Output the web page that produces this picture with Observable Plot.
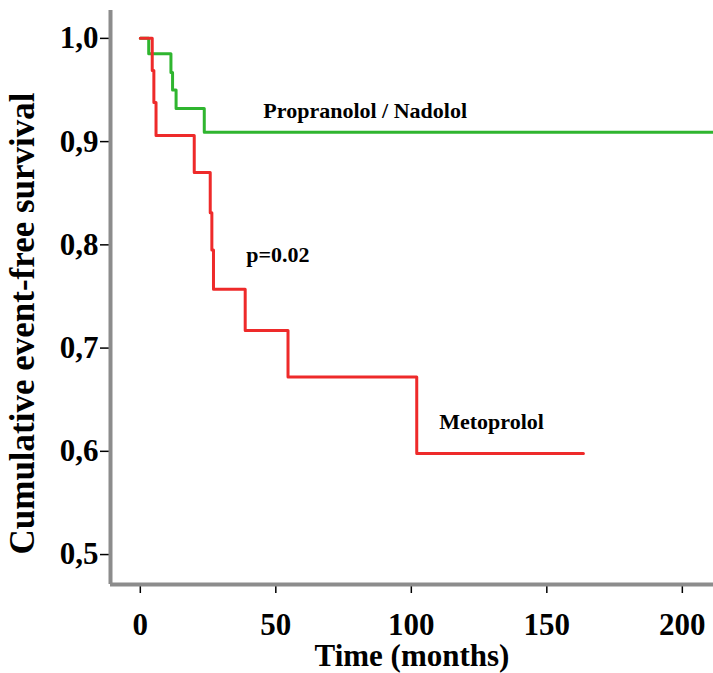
<!DOCTYPE html>
<html>
<head>
<meta charset="utf-8">
<script src="https://cdn.jsdelivr.net/npm/d3@7"></script>
<script src="https://cdn.jsdelivr.net/npm/@observablehq/plot@0.6"></script>
<style>
  html, body { margin: 0; padding: 0; background: #fff; }
  #chart svg { display: block; }
</style>
</head>
<body>
<div id="chart"></div>
<script>
// Metoprolol (red) Kaplan–Meier steps
const redTime = [0, 4.4, 5.0, 5.8, 19.9, 25.8, 26.4, 27.0, 38.7, 54.5, 102, 163.5];
const redSurv = [1, 0.969, 0.938, 0.906, 0.870, 0.831, 0.795, 0.757, 0.717, 0.672, 0.598, 0.598];
// Propranolol / Nadolol (green)
const greenTime = [0, 3.1, 11.3, 11.9, 13.2, 23.6, 215];
const greenSurv = [1, 0.985, 0.967, 0.950, 0.932, 0.909, 0.909];

const xTicks = [0, 50, 100, 150, 200];
const yTicks = [0.5, 0.6, 0.7, 0.8, 0.9, 1.0];

const labelText = ["Propranolol / Nadolol", "p=0.02", "Metoprolol"];
const labelX = [45.4, 39.1, 110.3];
const labelY = [0.930, 0.790, 0.628];

const xTitle = "Time (months)";
const yTitle = "Cumulative event-free survival";

const xDomain = [-11, 211.5];
const yDomain = [0.471, 1.027];

const red = redTime.map((t, i) => ({t, s: redSurv[i]}));
const green = greenTime.map((t, i) => ({t, s: greenSurv[i]}));
const labels = labelText.map((text, i) => ({text, x: labelX[i], y: labelY[i]}));

const plot = Plot.plot({
  width: 713,
  height: 673,
  marginLeft: 110,
  marginRight: 0,
  marginTop: 10,
  marginBottom: 89,
  style: {fontFamily: "'Liberation Serif', 'Times New Roman', serif", fontWeight: "bold", background: "#fff", color: "#000"},
  x: {domain: xDomain},
  y: {domain: yDomain},
  marks: [
    Plot.axisX({ticks: xTicks, tickSize: 9, tickPadding: 19, fontSize: 31, label: null, stroke: "#000", strokeWidth: 1.5}),
    Plot.axisY({ticks: yTicks, tickSize: 10, tickPadding: 2, fontSize: 31, label: null, stroke: "#000", strokeWidth: 1.5,
      tickFormat: d => d.toFixed(1).replace(".", ",")}),
    Plot.ruleX([xDomain[0]], {stroke: "#8c8c8c", strokeWidth: 4, y1: yDomain[0], y2: yDomain[1]}),
    Plot.ruleY([yDomain[0]], {stroke: "#8c8c8c", strokeWidth: 4}),
    Plot.line(green, {x: "t", y: "s", curve: "step-after", stroke: "#2fb52f", strokeWidth: 3, clip: true}),
    Plot.line(red, {x: "t", y: "s", curve: "step-after", stroke: "#ee2a2a", strokeWidth: 3, clip: true}),
    Plot.text(labels, {x: "x", y: "y", text: "text", textAnchor: "start", lineAnchor: "middle", fontSize: 22, fill: "#000"}),
    Plot.text([xTitle], {frameAnchor: "bottom", dy: 72, textAnchor: "middle", lineAnchor: "middle", fontSize: 31, fill: "#000"}),
    Plot.text([yTitle], {frameAnchor: "left", rotate: -90, dx: -88, dy: 26, textAnchor: "middle", lineAnchor: "middle", fontSize: 35, fill: "#000"})
  ]
});
document.getElementById("chart").appendChild(plot);
</script>
</body>
</html>
